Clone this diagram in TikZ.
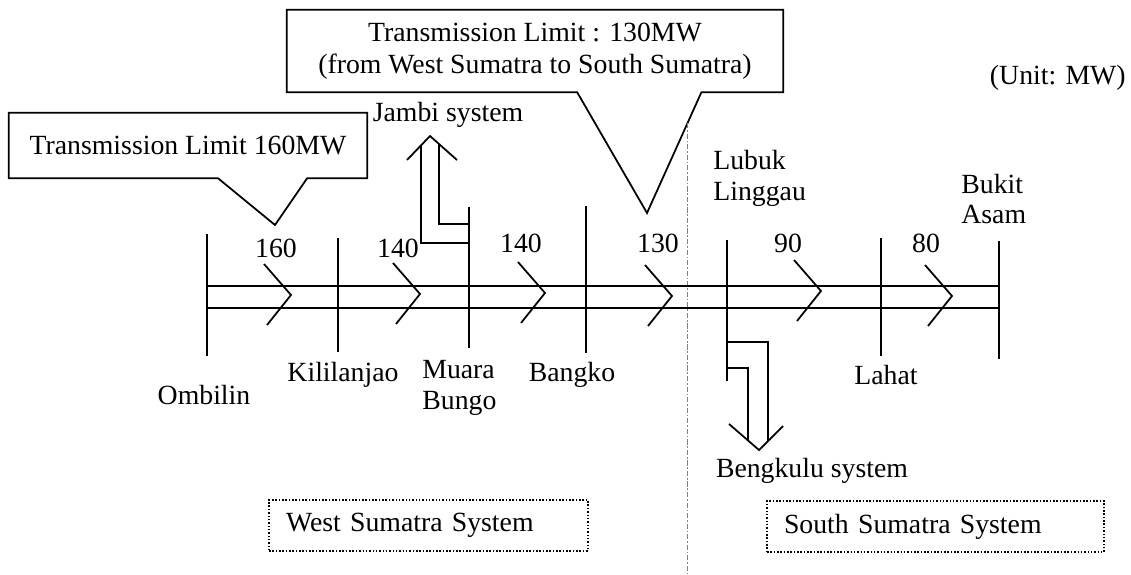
\documentclass[tikz,border=0pt]{standalone}
\usepackage{fontspec}
\setmainfont{Liberation Serif}
\usepackage{tikz}
\usetikzlibrary{positioning, calc}

\begin{document}
\begin{tikzpicture}[
    x=0.02cm, y=-0.02cm,
    font=\fontsize{15.8}{17.5}\selectfont,
    line/.style={line width=1pt},
    bus/.style={line width=1pt},
    flow/.style={line width=1pt, line join=miter},
    callout/.style={inner sep=0pt, align=center, font=\fontsize{15.8}{18.2}\selectfont},
    sysbox/.style={draw, densely dotted, line width=0.9pt, minimum height=1.02cm, inner xsep=0.34cm, align=left},
    lbl/.style={inner sep=0pt},
    divider/.style={gray, line width=0.5pt, dash pattern=on 3pt off 1pt on 1pt off 1pt}
]
    \useasboundingbox (0,0) rectangle (1131,574);

    % callouts
    \node[callout, minimum width=7.16cm, minimum height=1.3cm] (lim160) at (188,145.5) {Transmission Limit 160MW};
    \coordinate (tip160) at (275,225);
    \draw[line] (lim160.south east) -- (lim160.north east) -- (lim160.north west) -- (lim160.south west)
        -- ($(lim160.south west)!0.584!(lim160.south east)$) -- (tip160)
        -- ($(lim160.south west)!0.832!(lim160.south east)$) -- cycle;

    \node[callout, minimum width=9.92cm, minimum height=1.64cm] (lim130) at (535,51) {Transmission Limit : 130MW\\(from West Sumatra to South Sumatra)};
    \coordinate (tip130) at (647,213);
    \draw[line] (lim130.south east) -- (lim130.north east) -- (lim130.north west) -- (lim130.south west)
        -- ($(lim130.south west)!0.585!(lim130.south east)$) -- (tip130)
        -- ($(lim130.south west)!0.835!(lim130.south east)$) -- cycle;

    \node[lbl, anchor=east] (unit) at (1126,78) {(Unit: MW)};

    % system divider
    \coordinate (div-t) at (687,123);
    \coordinate (div-b) at (687,574);
    \draw[divider] (div-t) -- (div-b);

    % buses
    \coordinate (omb-t) at (207,234); \coordinate (omb-b) at (207,356);
    \coordinate (kil-t) at (338,238); \coordinate (kil-b) at (338,352);
    \coordinate (mua-t) at (469,207); \coordinate (mua-b) at (469,348);
    \coordinate (ban-t) at (586,206); \coordinate (ban-b) at (586,353);
    \coordinate (lub-t) at (727,240); \coordinate (lub-b) at (727,381);
    \coordinate (lah-t) at (881,238); \coordinate (lah-b) at (881,356);
    \coordinate (buk-t) at (999,241); \coordinate (buk-b) at (999,359);

    \draw[bus] (omb-t) -- (omb-b);
    \draw[bus] (kil-t) -- (kil-b);
    \draw[bus] (mua-t) -- (mua-b);
    \draw[bus] (ban-t) -- (ban-b);
    \draw[bus] (lub-t) -- (lub-b);
    \draw[bus] (lah-t) -- (lah-b);
    \draw[bus] (buk-t) -- (buk-b);

    % double circuit line
    \coordinate (upper) at (0,286);
    \coordinate (lower) at (0,308);
    \draw[line] (omb-t |- upper) -- (buk-t |- upper);
    \draw[line] (omb-t |- lower) -- (buk-t |- lower);

    % power flow marks
    \coordinate (f1) at (291,295);
    \coordinate (f2) at (420,294);
    \coordinate (f3) at (545,293);
    \coordinate (f4) at (672,296);
    \coordinate (f5) at (821,291);
    \coordinate (f6) at (952,296);
    \draw[flow] (f1) ++(-27,-31) -- (f1) -- ++(-24,30);
    \draw[flow] (f2) ++(-27,-31) -- (f2) -- ++(-24,30);
    \draw[flow] (f3) ++(-27,-31) -- (f3) -- ++(-24,30);
    \draw[flow] (f4) ++(-27,-31) -- (f4) -- ++(-24,30);
    \draw[flow] (f5) ++(-27,-31) -- (f5) -- ++(-24,30);
    \draw[flow] (f6) ++(-27,-31) -- (f6) -- ++(-24,30);

    \node[lbl] (v1) at (276,248) {160};
    \node[lbl] (v2) at (398,248) {140};
    \node[lbl] (v3) at (521,243) {140};
    \node[lbl] (v4) at (658,243) {130};
    \node[lbl] (v5) at (788,243) {90};
    \node[lbl] (v6) at (926,243) {80};

    % Jambi outflow
    \coordinate (jam-tip) at (430,136);
    \draw[line] (mua-t) ++(0,36) -- ++(-48,0) -- ++(0,-98);
    \draw[line] (mua-t) ++(0,17) -- ++(-30,0) -- ++(0,-80);
    \draw[line] (jam-tip) ++(-23,24) -- (jam-tip) -- ++(27,24);
    \node[lbl] (jambi) at (448,115) {Jambi system};

    % Bengkulu outflow
    \coordinate (ben-tip) at (759,450);
    \draw[line] (lub-t) ++(0,102) -- ++(41,0) -- ++(0,99);
    \draw[line] (lub-t) ++(0,128) -- ++(21,0) -- ++(0,73);
    \draw[line] (ben-tip) ++(-30,-26) -- (ben-tip) -- ++(24,-24);
    \node[lbl] (bengkulu) at (812,471) {Bengkulu system};

    % substation names
    \node[lbl] (ombilin) at (204,395) {Ombilin};
    \node[lbl] (kililanjao) at (343,375) {Kililanjao};
    \node[lbl, align=left, anchor=west] (muara) at (422,388) {Muara\\Bungo};
    \node[lbl] (bangko) at (572,375) {Bangko};
    \node[lbl, align=left, anchor=west] (lubuk) at (713,178) {Lubuk\\Linggau};
    \node[lbl] (lahat) at (886,375) {Lahat};
    \node[lbl, align=left, anchor=west] (bukit) at (961,199) {Bukit\\Asam};

    % systems
    \node[sysbox, text width=5.70cm] (west) at (428.5,525.5) {West Sumatra System};
    \node[sysbox, text width=6.06cm] (south) at (935.5,526.5) {South Sumatra System};
\end{tikzpicture}
\end{document}
